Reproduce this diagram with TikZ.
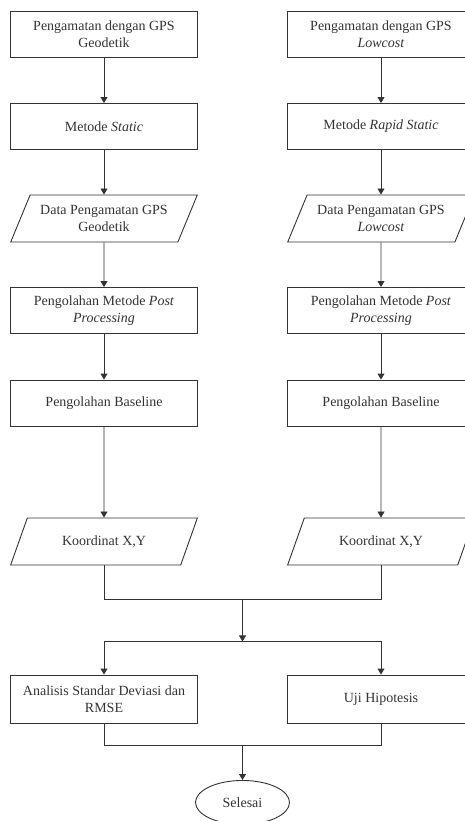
\documentclass[tikz,border=0pt]{standalone}
\usepackage{fontspec}
\setmainfont{Liberation Serif}
\usetikzlibrary{shapes.geometric, arrows.meta, positioning, calc}
\tikzstyle{startstop} = [ellipse,
minimum height=44pt,
minimum width=94pt,
text centered,
draw=black!80, line width=0.9pt,
text=black!80]
\tikzstyle{io} = [trapezium,
trapezium stretches=true,
trapezium left angle=62,
trapezium right angle=118,
minimum height=47pt,
minimum width=187pt,
text centered, align=center,
draw=black!80, line width=0.9pt,
text=black!80]
\tikzstyle{process} = [rectangle,
minimum height=46pt,
minimum width=187pt,
text centered,
align=center,
draw=black!80, line width=0.9pt,
text=black!80]
\tikzstyle{arrow} = [line width=0.9pt, draw=black!80, -{Triangle[length=6pt,width=7pt]}]
\tikzstyle{line} = [line width=0.9pt, draw=black!80]

\begin{document}
\begin{tikzpicture}[node distance=92pt, font=\fontsize{14}{17}\selectfont]
    \useasboundingbox (-104pt,34.5pt) rectangle (360pt,-786.5pt);
    % kolom kiri: GPS geodetik
    \node (gps1) [process] {Pengamatan dengan GPS\\Geodetik};
    \node (metode1) [process, below of=gps1] {Metode \textit{Static}};
    \node (data1) [io, below of=metode1] {Data Pengamatan GPS\\Geodetik};
    \node (olah1) [process, below of=data1] {Pengolahan Metode \textit{Post}\\\textit{Processing}};
    \node (base1) [process, below of=olah1, yshift=-0.5pt] {Pengolahan Baseline};
    \node (koord1) [io, below of=base1, yshift=-46.5pt] {Koordinat X,Y};
    % kolom kanan: GPS lowcost
    \node (gps2) [process, right of=gps1, xshift=185pt] {Pengamatan dengan GPS\\\textit{Lowcost}};
    \node (metode2) [process, below of=gps2] {Metode \textit{Rapid Static}};
    \node (data2) [io, below of=metode2] {Data Pengamatan GPS\\\textit{Lowcost}};
    \node (olah2) [process, below of=data2] {Pengolahan Metode \textit{Post}\\\textit{Processing}};
    \node (base2) [process, below of=olah2, yshift=-0.5pt] {Pengolahan Baseline};
    \node (koord2) [io, below of=base2, yshift=-46.5pt] {Koordinat X,Y};
    % analisis
    \node (analisis) [process, below of=koord1, yshift=-65.5pt, minimum height=48pt] {Analisis Standar Deviasi dan\\RMSE};
    \node (uji) [process, right of=analisis, xshift=185pt, minimum height=48pt] {Uji Hipotesis};
    \coordinate (join1) at ($(koord1.south)!0.5!(koord2.south)+(0,-34pt)$);
    \coordinate (split1) at ($(join1)+(0,-42pt)$);
    \coordinate (join2) at ($(analisis.south)!0.5!(uji.south)+(0,-22pt)$);
    \node (stop) [startstop, below of=join2, node distance=57pt] {Selesai};

    \draw [arrow] (gps1) -- (metode1);
    \draw [arrow] (metode1) -- (data1);
    \draw [arrow] (data1) -- (olah1);
    \draw [arrow] (olah1) -- (base1);
    \draw [arrow] (base1) -- (koord1);
    \draw [arrow] (gps2) -- (metode2);
    \draw [arrow] (metode2) -- (data2);
    \draw [arrow] (data2) -- (olah2);
    \draw [arrow] (olah2) -- (base2);
    \draw [arrow] (base2) -- (koord2);
    \draw [line] (koord1.south) |- (join1) -| (koord2.south);
    \draw [arrow] (join1) -- (split1);
    \draw [arrow] (split1) -| (analisis.north);
    \draw [arrow] (split1) -| (uji.north);
    \draw [line] (analisis.south) |- (join2) -| (uji.south);
    \draw [arrow] (join2) -- (stop);
\end{tikzpicture}
\end{document}
